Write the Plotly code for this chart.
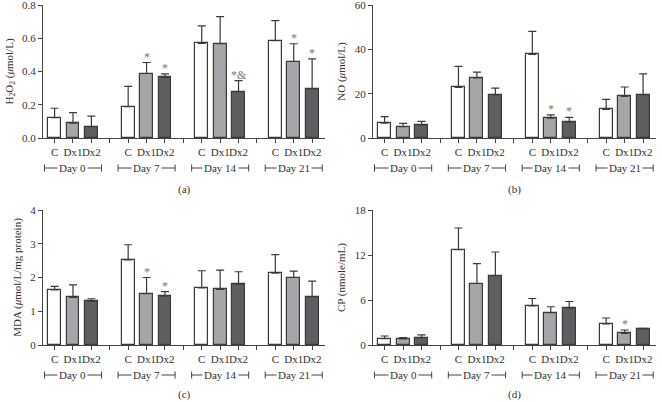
import plotly.graph_objects as go
from plotly.subplots import make_subplots

days = ["Day 0", "Day 7", "Day 14", "Day 21"]
groups = ["C", "Dx1", "Dx2"]
colors = ["#ffffff", "#a4a6a9", "#5c5e62"]

# mean values per group, one list per day (C, Dx1, Dx2)
h2o2 = {"C": [0.123, 0.189, 0.569, 0.585], "Dx1": [0.090, 0.388, 0.567, 0.460], "Dx2": [0.068, 0.364, 0.279, 0.295]}
h2o2_err = {"C": [0.056, 0.121, 0.105, 0.121], "Dx1": [0.063, 0.066, 0.163, 0.107], "Dx2": [0.063, 0.022, 0.066, 0.181]}
no = {"C": [6.7, 22.8, 37.7, 12.9], "Dx1": [5.1, 27.1, 8.9, 18.8], "Dx2": [5.8, 19.6, 7.2, 19.6]}
no_err = {"C": [2.9, 9.5, 10.4, 4.5], "Dx1": [1.5, 2.6, 1.5, 4.2], "Dx2": [1.7, 2.9, 2.1, 9.3]}
mda = {"C": [1.63, 2.52, 1.69, 2.13], "Dx1": [1.41, 1.52, 1.65, 2.00], "Dx2": [1.29, 1.45, 1.80, 1.43]}
mda_err = {"C": [0.11, 0.45, 0.51, 0.55], "Dx1": [0.37, 0.48, 0.57, 0.19], "Dx2": [0.08, 0.13, 0.37, 0.46]}
cp = {"C": [0.85, 12.7, 5.2, 2.8], "Dx1": [0.80, 8.2, 4.3, 1.56], "Dx2": [0.98, 9.25, 4.9, 2.14]}
cp_err = {"C": [0.35, 2.9, 1.0, 0.8], "Dx1": [0.2, 2.65, 0.8, 0.44], "Dx2": [0.36, 3.15, 0.9, 0.09]}

# significance marks: (day index, group, text)
h2o2_sig = [(1, "Dx1", "*"), (1, "Dx2", "*"), (2, "Dx2", "*&"), (3, "Dx1", "*"), (3, "Dx2", "*")]
no_sig = [(2, "Dx1", "*"), (2, "Dx2", "*")]
mda_sig = [(1, "Dx1", "*"), (1, "Dx2", "*")]
cp_sig = [(3, "Dx1", "*")]

panels = [
    (h2o2, h2o2_err, h2o2_sig, "H<sub>2</sub>O<sub>2</sub> (<i>μ</i>mol/L)", [0, 0.2, 0.4, 0.6, 0.8], ".1f", "(a)"),
    (no, no_err, no_sig, "NO (<i>μ</i>mol/L)", [0, 20, 40, 60], "d", "(b)"),
    (mda, mda_err, mda_sig, "MDA (<i>μ</i>mol/L/mg protein)", [0, 1, 2, 3, 4], "d", "(c)"),
    (cp, cp_err, cp_sig, "CP (nmole/mL)", [0, 6, 12, 18], "d", "(d)"),
]

W, H = 662, 402
font = "Liberation Serif"
fs = 11
txt = "#333333"
ax = "#444444"

fig = make_subplots(rows=2, cols=2)

xdom = [[43 / W, 325 / W], [373 / W, 656 / W]]
ydom = [[1 - 138 / H, 1 - 5 / H], [1 - 345 / H, 1 - 210 / H]]
# pixel y of day labels / panel letter per row
row_px = [(168, 189), (375, 394)]


def pos(d, g):
    return d * 4 + groups.index(g)


tickvals = [pos(d, g) for d in range(len(days)) for g in groups]
ticktext = [g for d in range(len(days)) for g in groups]
gapvals = [d * 4 + 3 for d in range(len(days) - 1)]

for k, (vals, errs, sig, title, yt, fmt, letter) in enumerate(panels):
    r, c = k // 2 + 1, k % 2 + 1
    xa = "x" if k == 0 else "x%d" % (k + 1)
    ya = "y" if k == 0 else "y%d" % (k + 1)
    for gi, g in enumerate(groups):
        fig.add_trace(go.Bar(
            x=[pos(d, g) for d in range(len(days))], y=vals[g],
            width=0.7, marker=dict(color=colors[gi], line=dict(color="#3a3a3a", width=1.2)),
            error_y=dict(type="data", symmetric=False, array=errs[g], arrayminus=[0] * len(days),
                         color="#3a3a3a", thickness=1.2, width=4),
            showlegend=False, hoverinfo="skip"), row=r, col=c)
    for d, g, t in sig:
        fig.add_annotation(x=pos(d, g), y=vals[g][d] + errs[g][d], xref=xa, yref=ya,
                           text=t, showarrow=False, yanchor="bottom", yshift=-3,
                           font=dict(family=font, size=12, color="#777777"))
    fig.update_xaxes(domain=xdom[c - 1], range=[-0.63, 14.7], tickvals=tickvals, ticktext=ticktext,
                     tickangle=0, ticks="outside", ticklen=4, tickcolor=ax, showline=True, linecolor=ax,
                     linewidth=1, showgrid=False, zeroline=False, automargin=False,
                     ticklabeloverflow="allow",
                     minor=dict(tickvals=gapvals, ticks="outside", ticklen=4, tickcolor=ax, showgrid=False),
                     tickfont=dict(family=font, size=fs, color=txt), row=r, col=c)
    fig.update_yaxes(domain=ydom[r - 1], range=[0, yt[-1]], tickvals=yt, tickformat=fmt,
                     ticks="outside", ticklen=4, tickcolor=ax, showline=True, linecolor=ax,
                     linewidth=1, showgrid=False, zeroline=False, automargin=False,
                     ticklabeloverflow="allow",
                     tickfont=dict(family=font, size=fs, color=txt),
                     title=dict(text=title, font=dict(family=font, size=fs, color=txt), standoff=6),
                     row=r, col=c)
    day_px, let_px = row_px[r - 1]
    for d, day in enumerate(days):
        x0, x1 = pos(d, "C") - 0.55, pos(d, "Dx2") + 0.55
        yb = 1 - day_px / H
        fig.add_shape(type="line", xref=xa, yref="paper", x0=x0, x1=x1, y0=yb, y1=yb,
                      line=dict(color=ax, width=1))
        for xe in (x0, x1):
            fig.add_shape(type="line", xref=xa, yref="paper", x0=xe, x1=xe,
                          y0=yb - 3.5 / H, y1=yb + 3.5 / H, line=dict(color=ax, width=1))
        fig.add_annotation(x=(x0 + x1) / 2, y=yb, xref=xa, yref="paper", text=day,
                           xanchor="center", yanchor="middle",
                           showarrow=False, bgcolor="white", borderpad=1,
                           font=dict(family=font, size=fs, color=txt))
    fig.add_annotation(x=sum(xdom[c - 1]) / 2, y=1 - let_px / H, xref="paper", yref="paper",
                       text=letter, showarrow=False, xanchor="center", yanchor="middle",
                       font=dict(family=font, size=fs, color=txt))

fig.update_layout(width=W, height=H, margin=dict(l=0, r=0, t=0, b=0),
                  plot_bgcolor="white", paper_bgcolor="white", bargap=0)
fig.write_html("out.html", config={"displayModeBar": False},
               post_script="document.body.style.margin='0px';")
